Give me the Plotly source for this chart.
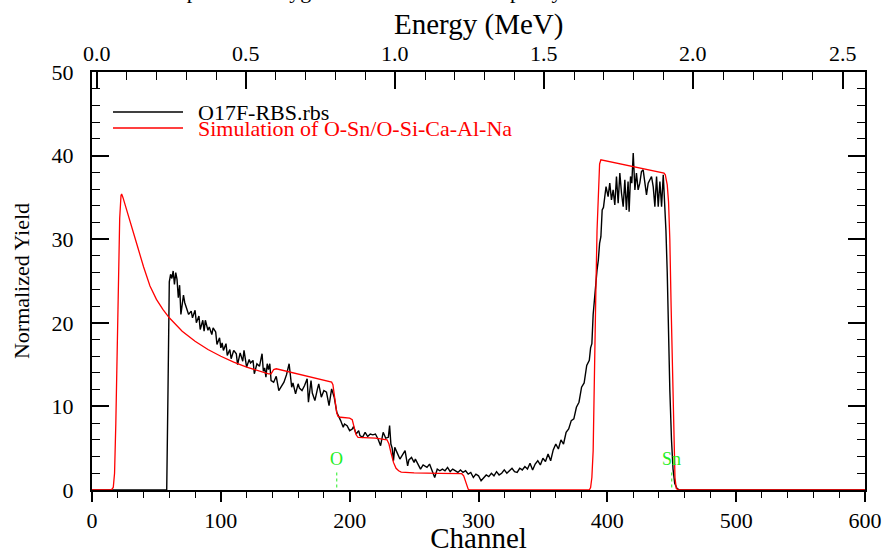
import plotly.graph_objects as go

# ---------------- data ----------------
exp_ch = [0, 58, 59, 60, 61, 62, 63, 64, 65, 66, 67, 68, 69, 70, 71, 72, 74, 75, 77, 78, 80, 81, 83, 84,
          86, 87, 88, 90, 91, 93, 94, 96, 97, 99, 100, 101, 102, 104, 105, 107, 108, 110, 112, 113,
          115, 117, 118, 120, 122, 123, 125, 126, 128, 130, 132, 133, 134, 135, 136, 137, 138, 139,
          141, 143, 145, 147, 149, 151, 153, 155, 156, 158, 160, 161, 163, 165, 167, 168, 170, 171,
          173, 175, 176, 178, 180, 182, 184, 186, 188, 190, 191, 193, 195, 196, 198, 200, 202, 203,
          205, 207, 208, 210, 212, 214, 216, 218, 220, 222, 224, 226, 228, 230, 231, 232, 233, 234,
          235, 237, 239, 241, 243, 245, 246, 248, 250, 251, 253, 255, 257, 258, 260, 262, 264, 266,
          268, 270, 272, 274, 276, 278, 280, 282, 284, 286, 288, 290, 292, 294, 296, 298, 300, 302,
          304, 306, 308, 310, 312, 314, 316, 318, 320, 322, 324, 326, 328, 330, 332, 334, 336, 338,
          340, 342, 344, 346, 348, 350, 352, 354, 356, 358, 360, 362, 364, 366, 368, 370, 372, 374,
          376, 378, 380, 382, 384, 386, 387, 388, 389, 390, 391, 392, 393, 394, 395, 396, 397, 398,
          399, 400.6, 401.9, 403.2, 404.5, 405.8, 407.1, 408.4, 409.7, 411, 412.3, 413.6, 414.8,
          416.1, 416.9, 418, 419, 420.1, 421.4, 422.6, 423.9, 425.2, 426.5, 427.8, 429.1, 430.4,
          431.7, 433, 434.3, 435.6, 436.9, 438.2, 439.5, 440.8, 442.1, 443.4, 444.7, 445.5, 446.5,
          447.5, 448.5, 449.8, 451, 452.3, 454, 456, 600]
exp_y = [0, 0, 12.0, 24.9, 25.8, 25.3, 26.2, 24.6, 26.0, 25.2, 23.0, 24.5, 21.0, 22.5, 23.3, 22.4, 21.6, 21.0, 21.4, 20.6, 21.5, 20.0, 20.8, 19.2,
         20.3, 19.0, 20.3, 19.1, 19.5, 18.6, 19.4, 18.9, 17.4, 18.2, 17.0, 17.6, 16.7, 17.5, 16.1, 16.8, 15.7, 16.7, 16.3, 15.0,
         16.4, 15.4, 16.7, 14.7, 15.6, 15.2, 15.5, 13.9, 15.1, 14.8, 16.3, 14.2, 14.6, 13.5, 15.1, 14.4, 15.1, 13.1,
         12.9, 13.6, 11.9, 12.4, 12.9, 13.8, 15.1, 12.3, 12.8, 11.5, 12.7, 12.2, 11.9, 12.5, 13.3, 10.5, 13.1, 11.6,
         10.7, 12.1, 12.7, 11.1, 11.9, 11.7, 10.1, 12.1, 11.1, 9.3, 9.0, 8.3, 7.5, 7.9, 7.7, 7.1, 7.3, 7.6,
         6.7, 7.1, 6.5, 6.3, 6.9, 6.4, 6.7, 6.6, 6.7, 6.1, 5.3, 6.9, 6.2, 6.3, 7.7, 5.5, 5.0, 3.5,
         5.1, 4.3, 3.7, 4.2, 4.7, 2.9, 3.6, 3.9, 3.3, 3.7, 3.0, 2.5, 3.0, 2.9, 2.7, 3.1, 2.4, 1.5,
         2.5, 2.3, 2.5, 2.3, 2.7, 2.2, 2.5, 2.3, 2.1, 2.4, 2.1, 2.3, 1.9, 2.1, 1.5, 1.9, 1.7, 1.1,
         1.5, 1.8, 1.6, 2.0, 1.7, 2.2, 1.8, 2.0, 2.4, 2.0, 2.3, 2.6, 2.2, 2.1, 2.6, 2.4, 2.8, 2.5,
         3.2, 2.4, 3.1, 3.5, 3.0, 3.8, 3.4, 4.3, 3.5, 4.8, 5.5, 4.9, 6.0, 5.5, 6.9, 7.3, 8.3, 8.5,
         9.9, 10.5, 12.3, 12.8, 14.9, 15.5, 17.0, 17.5, 21.0, 23.0, 24.0, 26.3, 27.5, 29.5, 30.3, 33.5, 33.8, 35.5,
         36.3, 35.1, 36.7, 34.7, 35.9, 34.1, 37.5, 34.3, 37.9, 35.5, 33.9, 37.1, 33.5,
         36.9, 33.3, 37.5, 36.7, 40.3, 35.9, 37.9, 35.9, 36.7, 38.1, 38.3, 36.5, 35.3,
         36.7, 37.1, 37.5, 36.3, 33.9, 37.5, 33.9, 36.9, 33.9, 37.7, 33.7, 31.0, 26.0,
         18.0, 12.0, 6.0, 2.5, 0.8, 0.2, 0, 0]

sim_ch = [0, 15, 16.5, 17.5, 18.5, 19.5, 20.5, 21.5, 22.5, 23, 24, 26, 30, 35, 40, 45, 50, 55, 60, 70,
          80, 90, 100, 110, 120, 130, 137, 139, 141, 143, 160, 180, 186, 187, 188, 189, 190, 191,
          193, 200, 202, 203.5, 205, 206.5, 220, 229, 230.5, 232, 234, 236, 238, 240, 250, 270,
          287, 288.5, 290, 291, 292, 293, 386, 387, 388, 389, 390, 391, 392, 393, 394, 395, 444,
          445, 446.5, 447.5, 448.5, 449.5, 450.5, 451.5, 452.5, 453.5, 455, 600]
sim_y = [0, 0, 0.3, 2.0, 8.0, 17.0, 26.0, 32.5, 35.2, 35.4, 35.0, 34.0, 32.0, 29.3, 26.7, 24.4, 22.8, 21.6, 20.6, 19.0,
         17.8, 16.8, 16.0, 15.3, 14.7, 14.2, 13.9, 13.9, 14.4, 14.5, 13.9, 13.2, 12.9, 12.6, 11.5, 10.0, 9.2, 8.8,
         8.7, 8.6, 8.4, 7.5, 6.6, 6.3, 6.2, 6.0, 5.5, 4.5, 3.3, 2.6, 2.3, 2.15, 2.05, 2.0,
         1.95, 1.7, 1.0, 0.4, 0.1, 0, 0, 0.3, 1.5, 4.7, 12.0, 23.0, 31.0, 36.5, 39.0, 39.5, 37.9,
         37.7, 36.5, 34.5, 30.0, 22.0, 14.0, 6.0, 1.5, 0.2, 0, 0]

energy_range = [-0.0168, 2.5752]   # MeV at channel 0 and channel 600
energy_ticks = [0.0, 0.5, 1.0, 1.5, 2.0, 2.5]
energy_labels = ["0.0", "0.5", "1.0", "1.5", "2.0", "2.5"]
element_labels = ["O", "Sn"]
element_ch = [190, 450]

legend_names = ["O17F-RBS.rbs", "Simulation of O-Sn/O-Si-Ca-Al-Na"]
legend_colors = ["black", "#ff0000"]

caption = "The results show that the film is composed of oxygen and tin with low impurity content."

# ---------------- figure ----------------
W, H = 886, 554
L, R, T, B = 92, 21, 72, 64
pw, ph = W - L - R, H - T - B
FONT = "Liberation Serif"

def px2paper_x(px):
    return (px - L) / pw

def px2paper_y(py):
    return 1 - (py - T) / ph

fig = go.Figure()
fig.add_trace(go.Scatter(x=exp_ch, y=exp_y, mode="lines", name=legend_names[0],
                         line=dict(color=legend_colors[0], width=1.4), showlegend=False))
fig.add_trace(go.Scatter(x=sim_ch, y=sim_y, mode="lines", name=legend_names[1],
                         line=dict(color=legend_colors[1], width=1.3), showlegend=False))
# trace carrying the top energy axis (no marks)
fig.add_trace(go.Scatter(x=energy_range, y=[None, None], xaxis="x2", mode="lines",
                         showlegend=False, hoverinfo="skip"))

# element edge markers
for lab, ch in zip(element_labels, element_ch):
    fig.add_annotation(x=ch, y=3.75, text=lab, showarrow=False, xref="x", yref="y",
                       font=dict(family=FONT, size=18, color="#22ee22"))
    fig.add_shape(type="line", x0=ch, x1=ch, y0=0.3, y1=2.2, xref="x", yref="y",
                  line=dict(color="#22ee22", width=1, dash="dot"))

# top energy tick labels and title
for ev, lab in zip(energy_ticks, energy_labels):
    fig.add_annotation(x=ev, xref="x2", y=px2paper_y(53), yref="paper", text=lab,
                       showarrow=False, yanchor="middle",
                       font=dict(family=FONT, size=22, color="black"))
fig.add_annotation(x=0.5, xref="paper", y=px2paper_y(24), yref="paper", text="Energy (MeV)",
                   showarrow=False, yanchor="middle", font=dict(family=FONT, size=29, color="black"))

# manual legend
for i, (name, col) in enumerate(zip(legend_names, legend_colors)):
    yy = 112 + 16 * i
    fig.add_shape(type="line", xref="paper", yref="paper",
                  x0=px2paper_x(113), x1=px2paper_x(183), y0=px2paper_y(yy), y1=px2paper_y(yy),
                  line=dict(color=col, width=1.3))
    fig.add_annotation(xref="paper", yref="paper", x=px2paper_x(196), y=px2paper_y(yy),
                       xanchor="left", yanchor="middle", text=name, showarrow=False,
                       height=15, valign="middle",
                       font=dict(family=FONT, size=22, color=col))

# cropped caption at the very top (only its lower part is visible, as in the reference)
fig.add_annotation(xref="paper", yref="paper", x=px2paper_x(640), y=px2paper_y(5),
                   xanchor="right", yanchor="bottom", text=caption, showarrow=False,
                   font=dict(family=FONT, size=22, color="black"))

fig.update_layout(
    width=W, height=H,
    margin=dict(l=L, r=R, t=T, b=B, autoexpand=False),
    paper_bgcolor="white", plot_bgcolor="white",
    font=dict(family=FONT, color="black"),
    showlegend=False,
    xaxis=dict(range=[0, 600], tickvals=[0, 100, 200, 300, 400, 500, 600],
               ticks="outside", ticklen=10, tickwidth=1.5, tickcolor="black",
               minor=dict(dtick=20, ticks="outside", ticklen=6, tickwidth=1.2, tickcolor="black"),
               showline=True, linewidth=2, linecolor="black", mirror=False,
               showgrid=False, zeroline=False,
               tickfont=dict(family=FONT, size=22),
               title=dict(text="Channel", font=dict(family=FONT, size=29), standoff=8)),
    xaxis2=dict(overlaying="x", side="top", range=energy_range,
                tickvals=energy_ticks, showticklabels=False,
                ticks="inside", ticklen=17, tickwidth=1.5, tickcolor="black",
                minor=dict(dtick=0.1, tick0=0, ticks="inside", ticklen=8, tickwidth=1.2, tickcolor="black"),
                showline=True, linewidth=2, linecolor="black",
                showgrid=False, zeroline=False),
    yaxis=dict(range=[0, 50], tickvals=[0, 10, 20, 30, 40, 50],
               ticks="inside", ticklen=17, tickwidth=1.5, tickcolor="black",
               minor=dict(dtick=2, ticks="inside", ticklen=8, tickwidth=1.2, tickcolor="black"),
               showline=True, linewidth=2, linecolor="black", mirror="ticks",
               showgrid=False, zeroline=False, ticklabelstandoff=12,
               tickfont=dict(family=FONT, size=22),
               title=dict(text="Normalized Yield", font=dict(family=FONT, size=22), standoff=16)),
)

fig.write_html("out.html", config={"displayModeBar": False},
               post_script="document.body.style.margin='0';")
